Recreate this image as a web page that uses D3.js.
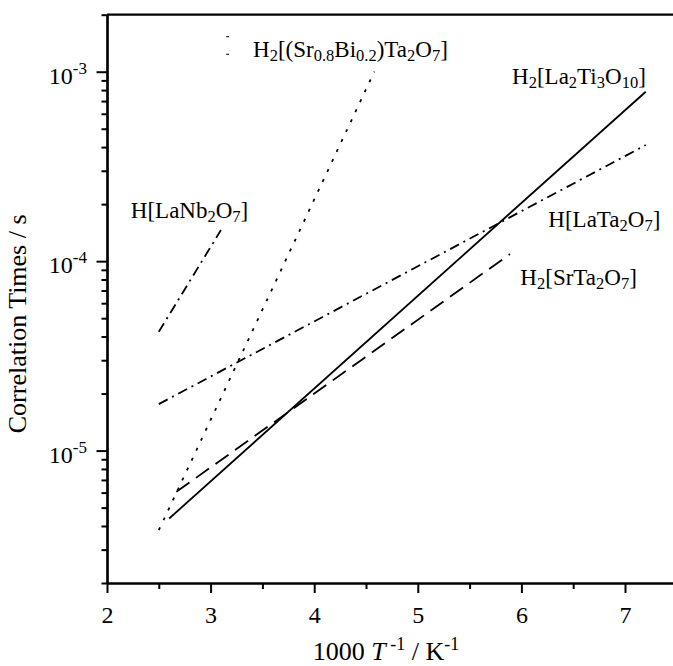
<!DOCTYPE html>
<html lang="en">
<head>
<meta charset="utf-8">
<title>Correlation times vs 1000/T</title>
<script src="https://d3js.org/d3.v7.min.js"></script>
<style>
  body { margin: 0; background: #fff; }
  text { font-family: "Liberation Serif", "Times New Roman", serif; fill: #000; }
</style>
</head>
<body>
<script>

// data (x = 1000/T in 1/K, y = correlation time in s)
var xTickValues = [2, 3, 4, 5, 6, 7];
var xMinorValues = [2.5, 3.5, 4.5, 5.5, 6.5, 7.5];
var yMajorValues = [1e-5, 1e-4, 1e-3];
var yMajorLabels = ["-5", "-4", "-3"];   // exponents of 10

var seriesNames = ["H[LaNb_{2}O_{7}]", "H_{2}[(Sr_{0.8}Bi_{0.2})Ta_{2}O_{7}]", "H[LaTa_{2}O_{7}]",
                   "H_{2}[La_{2}Ti_{3}O_{10}]", "H_{2}[SrTa_{2}O_{7}]"];
var seriesX = [[2.5, 3.1], [2.5, 4.58], [2.5, 7.2], [2.6, 7.2], [2.67, 5.89]];
var seriesY = [[4.24e-5, 1.46e-4], [3.8e-6, 1.0e-3], [1.76e-5, 4.1e-4], [4.38e-6, 7.84e-4], [6.06e-6, 1.09e-4]];

// where each name is written, in data units
var labelX = [2.23, 3.41, 6.26, 5.91, 5.99];
var labelY = [1.68e-4, 1.2e-3, 1.52e-4, 8.6e-4, 7.48e-5];

var dashes = ["10,5,2,5", "3,8", "10,5,2,5", null, "16,8"];

var W = 673, H = 666;
var mLeft = 107, mTop = 14.7, mBottom = 583, mRight = 676.8;

var svg = d3.select("body").append("svg")
    .attr("width", W)
    .attr("height", H)
    .style("background", "#fff");

var x = d3.scaleLinear().domain([2, 7.5]).range([mLeft, mRight]);
var y = d3.scaleLog().domain([2e-6, 2e-3]).range([mBottom, mTop]);

// minor ticks on the log axis: 2..9 x 10^n
var yMinorValues = [];
[1e-6, 1e-5, 1e-4, 1e-3].forEach(function(d) {
  for (var k = 2; k <= 9; k++) {
    var v = k * d;
    if (v >= 2e-6 * 0.999 && v <= 2e-3 * 1.001) yMinorValues.push(v);
  }
});

function styleAxis(g) {
  g.select(".domain").attr("stroke-width", 2.2).attr("stroke", "#000");
  g.selectAll(".tick line").attr("stroke-width", 2).attr("stroke", "#000");
}

// x axis
svg.append("g")
    .attr("transform", "translate(0," + mBottom + ")")
    .call(d3.axisBottom(x).tickValues(xMinorValues).tickSize(6).tickSizeOuter(0).tickFormat(""))
    .call(styleAxis);

var gx = svg.append("g")
    .attr("transform", "translate(0," + mBottom + ")")
    .call(d3.axisBottom(x).tickValues(xTickValues).tickSize(10).tickSizeOuter(0).tickFormat(d3.format("d")))
    .call(styleAxis);
gx.selectAll(".tick text")
    .attr("y", 40)
    .attr("dy", 0)
    .attr("fill", "#000")
    .style("font-size", "24px")
    .style("font-family", "'Liberation Serif', serif");

// y axis
svg.append("g")
    .attr("transform", "translate(" + mLeft + ",0)")
    .call(d3.axisLeft(y).tickValues(yMinorValues).tickSize(5.5).tickSizeOuter(0).tickFormat(""))
    .call(styleAxis);

svg.append("g")
    .attr("transform", "translate(" + mLeft + ",0)")
    .call(d3.axisLeft(y).tickValues(yMajorValues).tickSize(10.5).tickSizeOuter(0).tickFormat(""))
    .call(styleAxis);

var ylab = svg.append("g").selectAll("text")
    .data(yMajorValues)
    .enter()
    .append("text")
    .attr("x", 87)
    .attr("y", function(d) { return y(d) + 12; })
    .attr("text-anchor", "end")
    .style("font-size", "24px");
ylab.append("tspan").text("10");
ylab.append("tspan")
    .attr("dy", -10)
    .style("font-size", "17px")
    .text(function(d, i) { return yMajorLabels[i]; });

// top frame line
svg.append("line")
    .attr("x1", mLeft).attr("x2", mRight)
    .attr("y1", mTop).attr("y2", mTop)
    .attr("stroke", "#000")
    .attr("stroke-width", 2.2);

// series
var line = d3.line()
    .x(function(d) { return x(d[0]); })
    .y(function(d) { return y(d[1]); });

seriesNames.forEach(function(name, i) {
  var pts = seriesX[i].map(function(v, j) { return [v, seriesY[i][j]]; });
  svg.append("path")
      .datum(pts)
      .attr("d", line)
      .attr("fill", "none")
      .attr("stroke", "#000")
      .attr("stroke-width", 1.8)
      .attr("stroke-dasharray", dashes[i]);
});

// write a formula with _{...} subscripts
function formula(sel, str) {
  var parts = str.split(/(_\{[^}]*\})/);
  var down = false;
  parts.forEach(function(p) {
    if (p === "") return;
    if (p.charAt(0) === "_") {
      sel.append("tspan")
          .attr("dy", down ? 0 : 4)
          .style("font-size", "16.5px")
          .text(p.slice(2, -1));
      down = true;
    } else {
      sel.append("tspan")
          .attr("dy", down ? -4 : 0)
          .text(p);
      down = false;
    }
  });
}

seriesNames.forEach(function(name, i) {
  var t = svg.append("text")
      .attr("x", x(labelX[i]))
      .attr("y", y(labelY[i]))
      .style("font-size", "23px");
  formula(t, name);
});

// stray legend marks near the top label
svg.append("g").selectAll("line")
    .data([0, 17.5])
    .enter()
    .append("line")
    .attr("x1", x(labelX[1]) - 27).attr("x2", x(labelX[1]) - 24)
    .attr("y1", function(d) { return y(labelY[1]) - 20 + d; })
    .attr("y2", function(d) { return y(labelY[1]) - 20 + d; })
    .attr("stroke", "#000")
    .attr("stroke-width", 1);

// axis titles
var xt = svg.append("text")
    .attr("x", 386)
    .attr("y", 660)
    .attr("text-anchor", "middle")
    .style("font-size", "26px");
xt.append("tspan").text("1000 ");
xt.append("tspan").style("font-style", "italic").text("T");
xt.append("tspan").attr("dy", -10).style("font-size", "18px").text(" -1");
xt.append("tspan").attr("dy", 10).text(" / K");
xt.append("tspan").attr("dy", -10).style("font-size", "18px").text("-1");

svg.append("text")
    .attr("transform", "translate(26," + ((mTop + mBottom) / 2 + 25) + ") rotate(-90)")
    .attr("text-anchor", "middle")
    .style("font-size", "26px")
    .text("Correlation Times / s");

</script>
</body>
</html>
